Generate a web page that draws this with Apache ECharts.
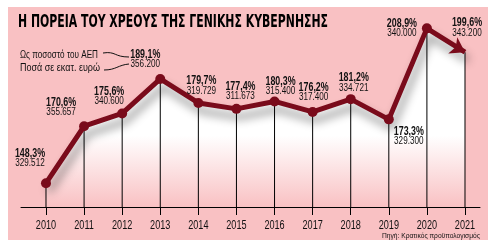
<!DOCTYPE html>
<html><head><meta charset="utf-8">
<script src="https://cdn.jsdelivr.net/npm/echarts@6/dist/echarts.min.js"></script>
<style>html,body{margin:0;padding:0;background:#fff}#c{width:496px;height:252px}</style>
</head><body><div id="c"></div>
<script>
const years = [2010,2011,2012,2013,2014,2015,2016,2017,2018,2019,2020,2021];
const pctOfGDP = [148.3,170.6,175.6,189.1,179.7,177.4,180.3,176.2,181.2,173.3,208.9,199.6];
const debtMillionEur = [329512,355657,340600,356200,319729,311673,315400,317400,334721,329300,340000,343200];
const titleText = 'Η ΠΟΡΕΙΑ ΤΟΥ ΧΡΕΟΥΣ ΤΗΣ ΓΕΝΙΚΗΣ ΚΥΒΕΡΝΗΣΗΣ';
const legendPct = 'Ως ποσοστό του ΑΕΠ';
const legendAmt = 'Ποσά σε εκατ. ευρώ';
const sourceText = 'Πηγή: Κρατικός προϋπολογισμός';

// label placement (layout only): centre of the two-line label relative to its point
const labelOffsets = [[-16,-25],[-23,-19],[-13,-17],[-15,-19],[3,-17],[4,-17],[6,-15],[1,-19],[3,-16],[20,17],[-25,0],[2,-24]];

const FONT = "'Liberation Sans',Arial,sans-serif";
const RED = '#7a0b1b';
const PINK = '#f9c1c3';
const Y_MIN = 139, Y_MAX = 220;

const mctx = document.createElement('canvas').getContext('2d');
function fitScale(text, font, width){ mctx.font = font; return width / mctx.measureText(text).width; }

const fmtPct = v => v.toFixed(1).replace('.', ',') + '%';
const fmtAmt = v => { const s = String(v); return s.slice(0, s.length-3) + '.' + s.slice(-3); };

const pts = years.map((y,i)=>[y,pctOfGDP[i]]);
const lineData = pts.map((p,i)=>{
  const d = {value:p};
  if(i===pts.length-1){ d.symbol='arrow'; d.symbolSize=[14,14]; d.symbolRotate=-119; }
  return d;
});

const titleFont = "bold 18px 'DejaVu Sans'";
const legFont = "11px " + FONT;
const srcFont = "8px " + FONT;
const pctFont = "bold 12px " + FONT;
const amtFont = "11px " + FONT;
const yearFont = "12px " + FONT;
const SX = 0.74;

const chart = echarts.init(document.getElementById('c'), null, {renderer:'canvas'});
chart.setOption({
  backgroundColor:'#fff',
  animation:false,
  grid:{left:21,right:16,top:0,bottom:45},
  xAxis:{type:'value',min:2009.344,max:2021.394,
    axisLine:{show:true,lineStyle:{color:'#000',width:1}},
    axisTick:{show:true,customValues:years,length:8,lineStyle:{color:'#000',width:1}},
    axisLabel:{show:false},
    splitLine:{show:false}},
  yAxis:{type:'value',min:Y_MIN,max:Y_MAX,show:false},
  graphic:[
    {type:'rect',z:-10,shape:{x:8,y:7,width:480,height:233},style:{fill:PINK}},
    {type:'text',z:50,x:18,y:13,scaleX:fitScale(titleText,titleFont,310),style:{text:titleText,font:titleFont,fill:'#000'}},
    {type:'text',z:50,x:20,y:49,scaleX:fitScale(legendPct,legFont,78),style:{text:legendPct,font:legFont,fill:'#111'}},
    {type:'text',z:50,x:20,y:62,scaleX:fitScale(legendAmt,legFont,80),style:{text:legendAmt,font:legFont,fill:'#111'}},
    {type:'bezierCurve',z:50,shape:{x1:103,y1:53,x2:129,y2:57,cpx1:116,cpy1:51,cpx2:114,cpy2:57},style:{stroke:'#111',lineWidth:1,fill:null}},
    {type:'bezierCurve',z:50,shape:{x1:104,y1:70,x2:129,y2:64,cpx1:116,cpy1:70,cpx2:118,cpy2:65},style:{stroke:'#111',lineWidth:1,fill:null}},
    {type:'text',z:50,x:480,y:232,scaleX:fitScale(sourceText,srcFont,98),originX:0,style:{text:sourceText,font:srcFont,fill:'#111',align:'right'}}
  ],
  series:[
    {type:'line',z:1,data:pts,symbol:'none',lineStyle:{width:0},silent:true,
      areaStyle:{origin:'start',opacity:1,color:new echarts.graphic.LinearGradient(0,0,0,1,[{offset:0,color:'#ffffff'},{offset:0.6,color:'#ffffff'},{offset:1,color:PINK}])}},
    {type:'bar',z:2,data:pts,barWidth:1,itemStyle:{color:'#000'},silent:true},
    {type:'line',z:3,data:lineData,symbol:'circle',symbolSize:10,
      itemStyle:{color:RED},
      lineStyle:{color:RED,width:5,shadowColor:'rgba(0,0,0,0.45)',shadowBlur:10,shadowOffsetX:3,shadowOffsetY:8}},
    {type:'custom',z:5,data:pts,silent:true,
      renderItem:(params, api)=>{
        const i = params.dataIndex;
        const c = api.coord([api.value(0), api.value(1)]);
        const base = api.coord([api.value(0), Y_MIN]);
        const o = labelOffsets[i];
        return {type:'group',children:[
          {type:'text',x:c[0]+o[0],y:c[1]+o[1]+1,scaleX:SX,
            style:{text:fmtPct(pctOfGDP[i]),font:pctFont,fill:'#111',align:'center',verticalAlign:'bottom'}},
          {type:'text',x:c[0]+o[0],y:c[1]+o[1]-1,scaleX:SX,
            style:{text:fmtAmt(debtMillionEur[i]),font:amtFont,fill:'#111',align:'center',verticalAlign:'top'}},
          {type:'text',x:base[0],y:base[1]+13,scaleX:0.76,
            style:{text:String(years[i]),font:yearFont,fill:'#111',align:'center',verticalAlign:'top'}}
        ]};
      }}
  ]
});
</script></body></html>
